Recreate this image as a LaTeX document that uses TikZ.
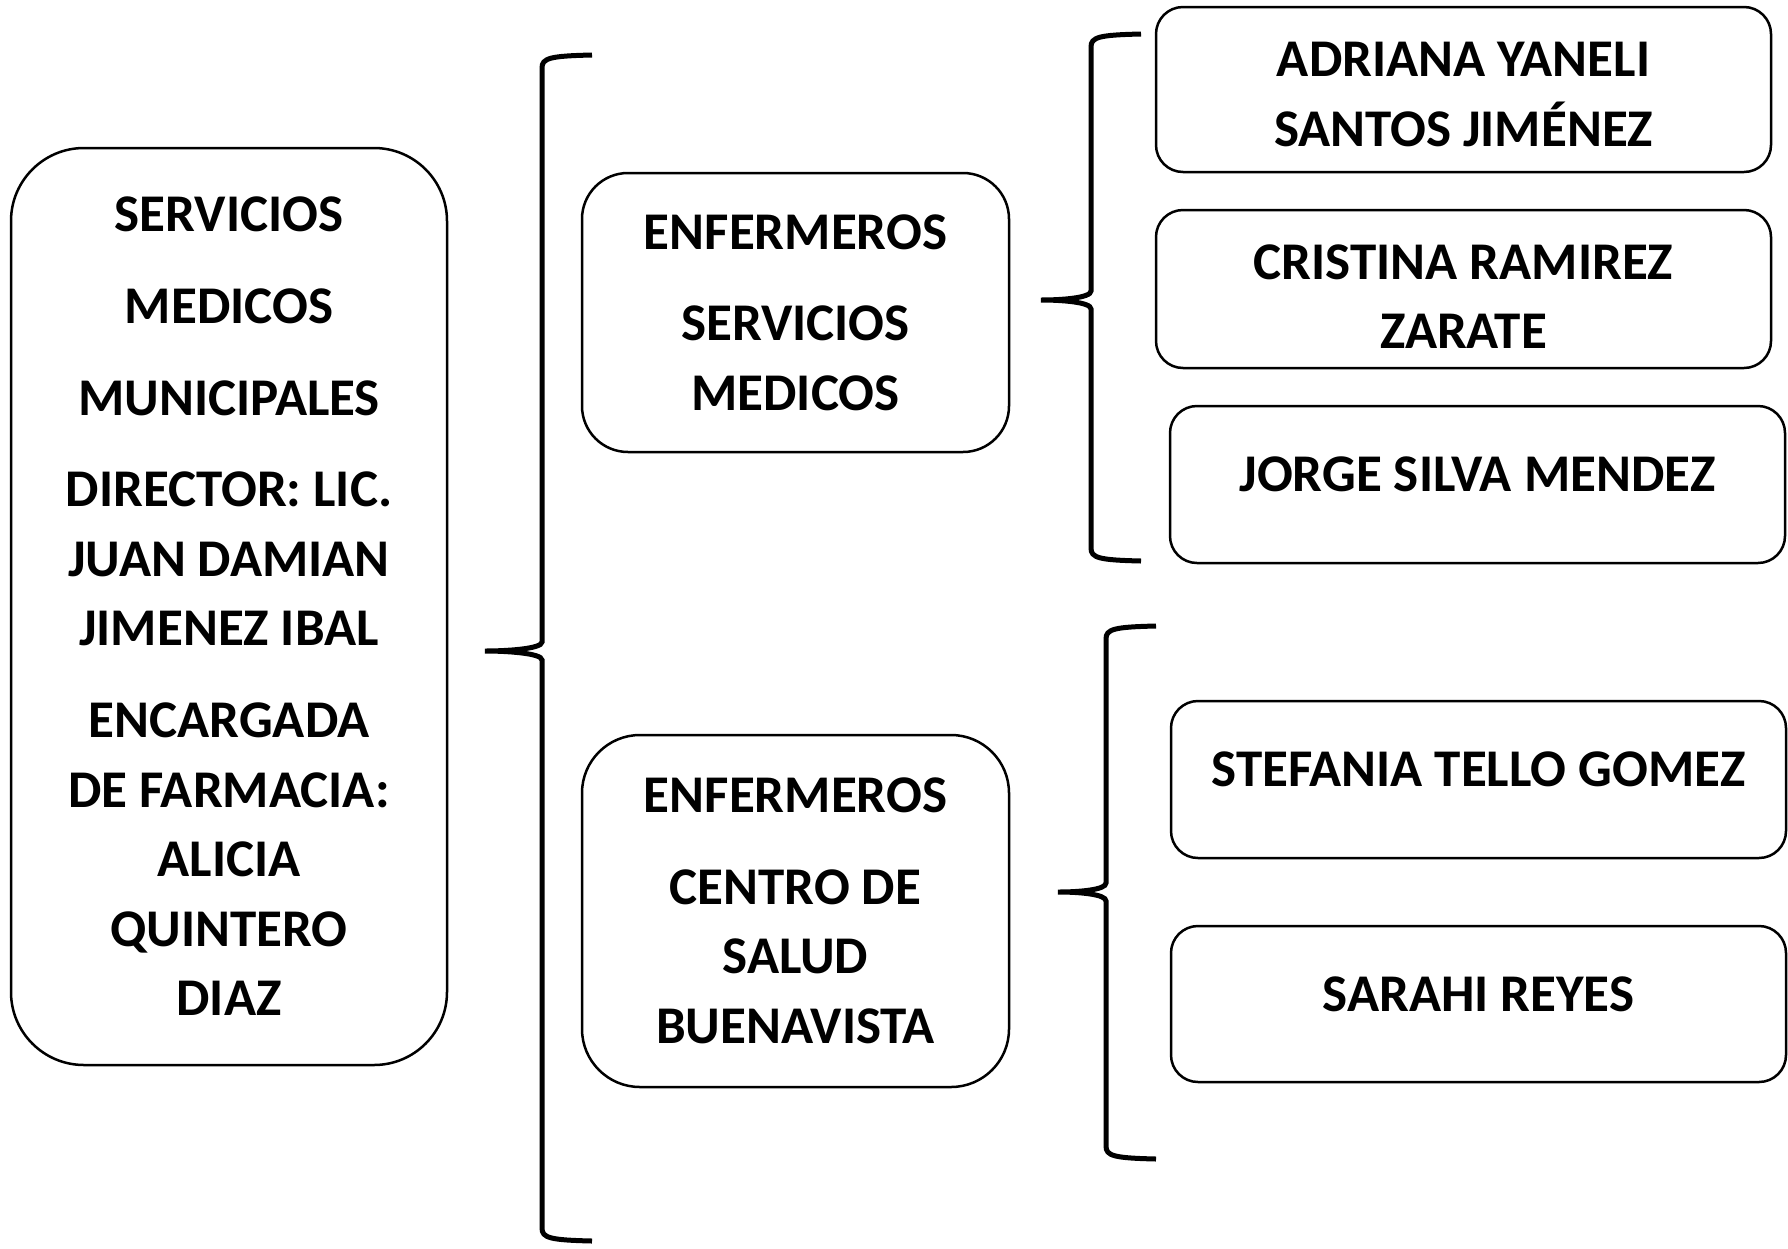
\documentclass[tikz,border=0pt]{standalone}
\usepackage{fontspec}
\setmainfont{Carlito}
\usetikzlibrary{calc}

\tikzset{
  caja/.style={draw, line width=2.5pt, inner sep=0pt, align=center,
    font=\fontsize{53}{69.6}\selectfont\bfseries},
  persona/.style={caja, minimum width=615pt, rounded corners=27pt},
  llave/.style={line width=5pt}
}

% llave: punta superior, punta media, punta inferior
\newcommand{\dibujallave}[3]{%
  \draw[llave] let \p1=(#1), \p2=(#2), \p3=(#3) in
    (\p1) .. controls (\x1-42pt,\y1-1pt) and (\x1-50pt,\y1-3pt) .. (\x1-50pt,\y1-13pt)
    -- (\x1-50pt,\y2+9pt) .. controls (\x1-50pt,\y2+2pt) and (\x2+20pt,\y2) .. (\p2)
    .. controls (\x2+20pt,\y2) and (\x1-50pt,\y2-2pt) .. (\x1-50pt,\y2-9pt)
    -- (\x1-50pt,\y3+13pt) .. controls (\x1-50pt,\y3+3pt) and (\x3-42pt,\y3+1pt) .. (\p3);}

\begin{document}
\begin{tikzpicture}[x=1pt,y=-1pt]
\useasboundingbox (0,0) rectangle (1788,1248);

% Direccion
\node[caja, minimum width=436pt, minimum height=917pt, rounded corners=73pt] (director) at (229,606.5)
  {SERVICIOS\\[22pt] MEDICOS\\[22pt] MUNICIPALES\\[22pt] DIRECTOR: LIC.\\ JUAN DAMIAN\\ JIMENEZ IBAL\\[22pt]
   ENCARGADA\\ DE FARMACIA:\\ ALICIA\\ QUINTERO\\ DIAZ};

% Enfermeros
\node[caja, minimum width=427pt, minimum height=279pt, rounded corners=46pt] (servicios) at (795.5,312.5)
  {ENFERMEROS\\[22pt] SERVICIOS\\ MEDICOS};
\node[caja, minimum width=427pt, minimum height=352pt, rounded corners=58pt] (centro) at (795.5,911)
  {ENFERMEROS\\[22pt] CENTRO DE\\ SALUD\\ BUENAVISTA};

% Personal
\node[persona, minimum height=165pt] (adriana) at (1463.5,89.5) {\rule{0pt}{44pt}ADRIANA YANELI\\ SANTOS JIMÉNEZ};
\node[persona, minimum height=158pt] (cristina) at (1463.5,289) {\rule{0pt}{50pt}CRISTINA RAMIREZ\\ ZARATE};
\node[persona, minimum height=157pt, text depth=20pt] (jorge) at (1477.5,484.5) {JORGE SILVA MENDEZ};
\node[persona, minimum height=157pt, text depth=20pt] (stefania) at (1478.5,779.5) {STEFANIA TELLO GOMEZ};
\node[persona, minimum height=156pt, text depth=20pt] (sarahi) at (1478.5,1004) {SARAHI REYES};

% Llaves
\coordinate (dirA) at (592,55);
\coordinate (dirM) at (485,651);
\coordinate (dirB) at (592,1241);
\coordinate (servA) at (1141,34);
\coordinate (servM) at (1041,300);
\coordinate (servB) at (1141,561);
\coordinate (centA) at (1156,626);
\coordinate (centM) at (1058,892);
\coordinate (centB) at (1156,1159);
\dibujallave{dirA}{dirM}{dirB}
\dibujallave{servA}{servM}{servB}
\dibujallave{centA}{centM}{centB}
\end{tikzpicture}
\end{document}
